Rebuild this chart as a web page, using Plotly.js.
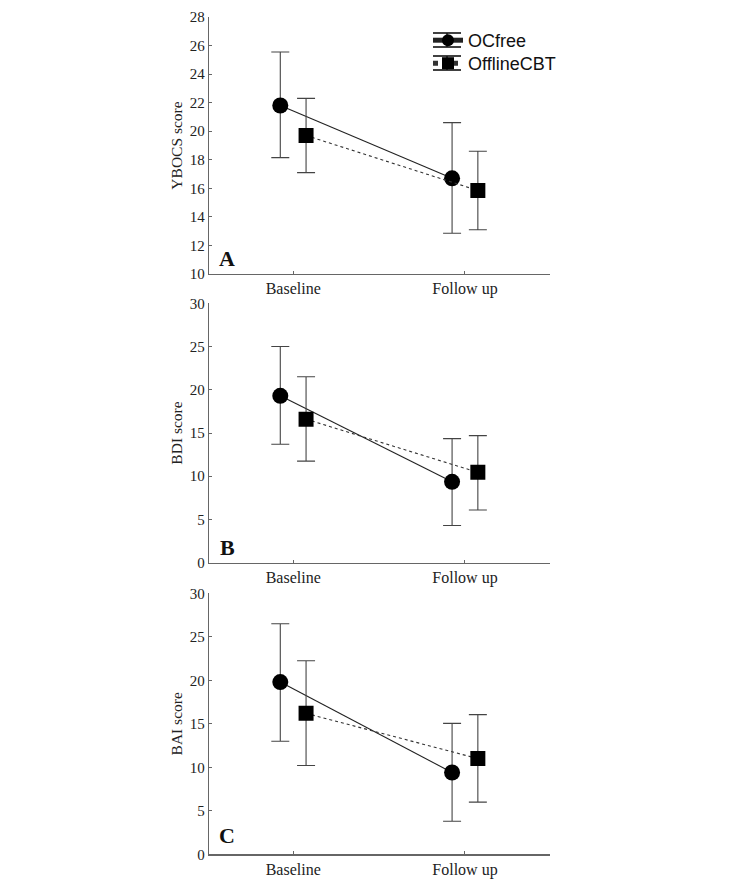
<!DOCTYPE html>
<html>
<head>
<meta charset="utf-8">
<script src="https://cdn.plot.ly/plotly-3.0.1.min.js"></script>
<style>html,body{margin:0;padding:0;background:#fff;}#chart{width:735px;height:882px;}</style>
</head>
<body>
<div id="chart"></div>
<script>
// ---- data ----
const categories = ['Baseline', 'Follow up'];
const seriesNames = ['OCfree', 'OfflineCBT'];

// Panel A: YBOCS
const ybocsOCfreeMean  = [21.8, 16.7];
const ybocsOCfreeUpper = [25.55, 20.6];
const ybocsOCfreeLower = [18.15, 12.85];
const ybocsCBTMean  = [19.7, 15.85];
const ybocsCBTUpper = [22.3, 18.6];
const ybocsCBTLower = [17.1, 13.1];

// Panel B: BDI
const bdiOCfreeMean  = [19.3, 9.35];
const bdiOCfreeUpper = [25.0, 14.35];
const bdiOCfreeLower = [13.7, 4.3];
const bdiCBTMean  = [16.6, 10.45];
const bdiCBTUpper = [21.5, 14.7];
const bdiCBTLower = [11.75, 6.1];

// Panel C: BAI
const baiOCfreeMean  = [19.8, 9.4];
const baiOCfreeUpper = [26.5, 15.05];
const baiOCfreeLower = [13.0, 3.8];
const baiCBTMean  = [16.2, 11.0];
const baiCBTUpper = [22.25, 16.05];
const baiCBTLower = [10.2, 6.0];

const panelLetters = ['A', 'B', 'C'];
const yTitles = ['YBOCS score', 'BDI score', 'BAI score'];

// ---- styling ----
const W = 735, H = 882;
const serif = 'Liberation Serif, Times New Roman, serif';
const sans = 'Liberation Sans, Arial, sans-serif';
const dodge = 0.075;
const catIdx = categories.map((c, i) => i);

function errs(mean, up, lo) {
  return {
    type: 'data', symmetric: false,
    array: up.map((u, i) => u - mean[i]),
    arrayminus: lo.map((l, i) => mean[i] - l),
    color: '#444', thickness: 1.1, width: 9
  };
}

const panels = [
  {oc: [ybocsOCfreeMean, ybocsOCfreeUpper, ybocsOCfreeLower], cbt: [ybocsCBTMean, ybocsCBTUpper, ybocsCBTLower], range: [10, 28], dtick: 2, top: 17, bottom: 274},
  {oc: [bdiOCfreeMean, bdiOCfreeUpper, bdiOCfreeLower], cbt: [bdiCBTMean, bdiCBTUpper, bdiCBTLower], range: [0, 30], dtick: 5, top: 303.3, bottom: 562.7},
  {oc: [baiOCfreeMean, baiOCfreeUpper, baiOCfreeLower], cbt: [baiCBTMean, baiCBTUpper, baiCBTLower], range: [0, 30], dtick: 5, top: 593.3, bottom: 854.3}
];

// legend glyph decoration (error-bar caps), in pixels
const legendRowsY = [40, 63];
const capX0 = 433, capX1 = 461, capMid = 447, capHalf = 7;

const legendBase = {
  x: 428 / W, xanchor: 'left', yanchor: 'top',
  bgcolor: 'rgba(0,0,0,0)', font: {family: sans, size: 18, color: '#111'},
  itemsizing: 'constant', tracegroupgap: 0
};

const traces = [];
const layout = {
  width: W, height: H,
  margin: {l: 0, r: 0, t: 0, b: 0},
  paper_bgcolor: '#fff', plot_bgcolor: '#fff',
  showlegend: true,
  legend: Object.assign({}, legendBase, {y: 1 - (legendRowsY[0] - 18) / H}),
  legend2: Object.assign({}, legendBase, {y: 1 - (legendRowsY[1] - 18) / H}),
  annotations: [],
  shapes: [],
  font: {family: serif, color: '#222'}
};

legendRowsY.forEach(cy => {
  [cy - capHalf, cy + capHalf].forEach(yy => {
    layout.shapes.push({type: 'line', xref: 'paper', yref: 'paper',
      x0: capX0 / W, x1: capX1 / W, y0: 1 - yy / H, y1: 1 - yy / H,
      line: {color: '#111', width: 1.6}});
  });
  layout.shapes.push({type: 'line', xref: 'paper', yref: 'paper',
    x0: capMid / W, x1: capMid / W, y0: 1 - (cy - capHalf) / H, y1: 1 - (cy + capHalf) / H,
    line: {color: '#111', width: 1.4}});
});

const xLeft = 209, xRight = 550;
panels.forEach((p, k) => {
  const ax = k === 0 ? '' : String(k + 1);
  traces.push({
    type: 'scatter', mode: 'lines+markers', name: seriesNames[0],
    x: catIdx.map(i => i - dodge), y: p.oc[0],
    error_y: errs(p.oc[0], p.oc[1], p.oc[2]),
    line: {color: '#222', width: 1.1},
    marker: {symbol: 'circle', size: 16, color: '#000'},
    xaxis: 'x' + ax, yaxis: 'y' + ax, showlegend: k === 0, legend: 'legend', hoverinfo: 'skip'
  });
  traces.push({
    type: 'scatter', mode: 'lines+markers', name: seriesNames[1],
    x: catIdx.map(i => i + dodge), y: p.cbt[0],
    error_y: errs(p.cbt[0], p.cbt[1], p.cbt[2]),
    line: {color: '#333', width: 1.1, dash: 'dot'},
    marker: {symbol: 'square', size: 15, color: '#000'},
    xaxis: 'x' + ax, yaxis: 'y' + ax, showlegend: k === 0, legend: 'legend2', hoverinfo: 'skip'
  });
  layout['xaxis' + ax] = {
    domain: [xLeft / W, xRight / W], anchor: 'y' + ax,
    range: [-0.49, 1.495], tickvals: catIdx, ticktext: categories,
    showline: true, linecolor: '#666', linewidth: 1.2,
    ticks: 'inside', ticklen: 3, tickcolor: '#666',
    showgrid: false, zeroline: false, fixedrange: true,
    tickfont: {family: serif, size: 16, color: '#222'}
  };
  layout['yaxis' + ax] = {
    domain: [1 - p.bottom / H, 1 - p.top / H], anchor: 'x' + ax,
    range: p.range, dtick: p.dtick, tick0: 0,
    showline: true, linecolor: '#666', linewidth: 1.2,
    ticks: 'inside', ticklen: 3, tickcolor: '#666',
    showgrid: false, zeroline: false, fixedrange: true,
    tickfont: {family: serif, size: 15, color: '#222'},
    title: {text: yTitles[k], font: {family: serif, size: 15.5, color: '#222'}, standoff: 3}
  };
  layout.annotations.push({
    xref: 'paper', yref: 'paper', x: 227 / W, y: 1 - (k === 0 ? 258 : k === 1 ? 547 : 835) / H,
    xanchor: 'center', yanchor: 'middle', showarrow: false,
    text: '<b>' + panelLetters[k] + '</b>', font: {family: serif, size: 22, color: '#111'}
  });
});

Plotly.newPlot('chart', traces, layout, {displayModeBar: false, staticPlot: true});
</script>
</body>
</html>
